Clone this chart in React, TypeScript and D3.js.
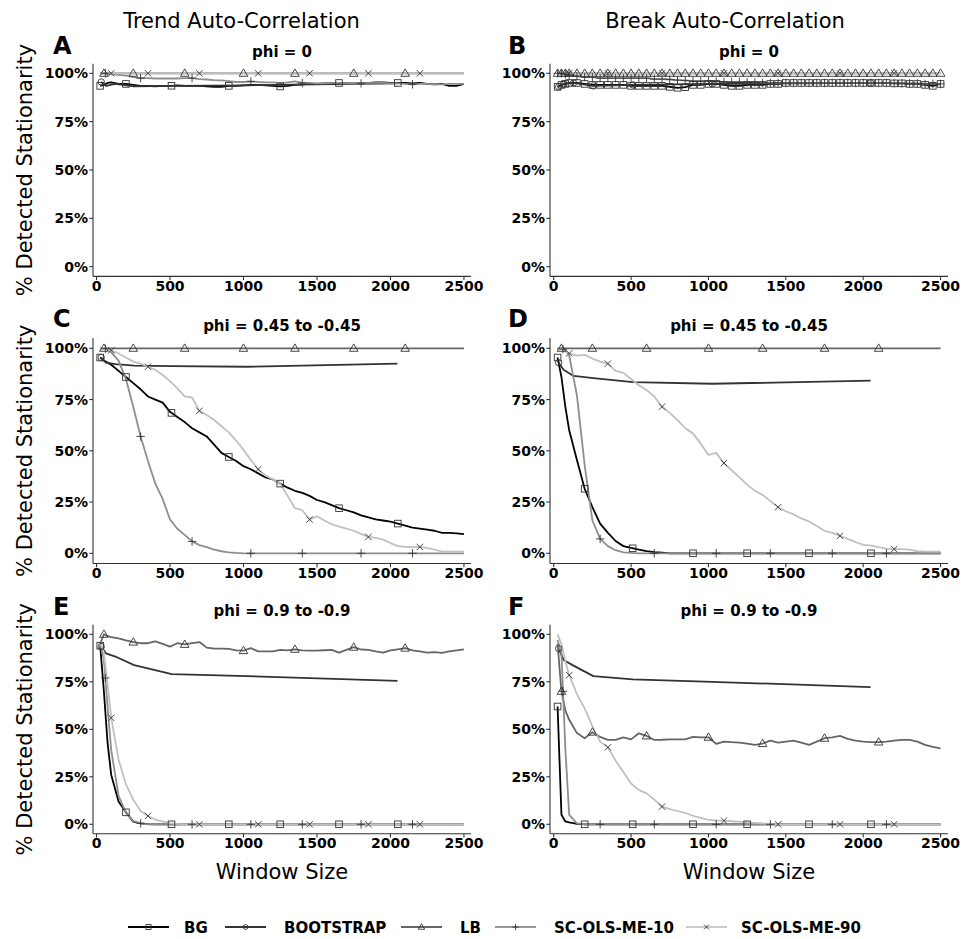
import React from "react";
import * as d3 from "d3";

// ---------------- DATA ----------------
const WINDOW_SIZES = [
  25, 50, 75, 100, 150, 200, 250, 300, 350, 400,
  450, 500, 550, 600, 650, 700, 750, 800, 850, 900,
  950, 1000, 1050, 1100, 1150, 1200, 1250, 1300, 1350, 1400,
  1450, 1500, 1550, 1600, 1650, 1700, 1750, 1800, 1850, 1900,
  1950, 2000, 2050, 2100, 2150, 2200, 2250, 2300, 2350, 2400,
  2450, 2500,
];
const BOOT_WINDOW_SIZES = [32, 64, 128, 256, 512, 1024, 2048];

const SERIES_NAMES = ["BG", "BOOTSTRAP", "LB", "SC-OLS-ME-10", "SC-OLS-ME-90"];
const X_TICKS = [0, 500, 1000, 1500, 2000, 2500];
const Y_TICKS = [0, 25, 50, 75, 100];
const Y_TICK_LABELS = ["0%", "25%", "50%", "75%", "100%"];

const ALL_STATIONARY = [
  100, 100, 100, 100, 100, 100, 100, 100, 100, 100,
  100, 100, 100, 100, 100, 100, 100, 100, 100, 100,
  100, 100, 100, 100, 100, 100, 100, 100, 100, 100,
  100, 100, 100, 100, 100, 100, 100, 100, 100, 100,
  100, 100, 100, 100, 100, 100, 100, 100, 100, 100,
  100, 100,
];

// Panel A: trend, phi = 0
const A_BG = [
  93.5, 94, 95, 95.3, 94.5, 94.5, 94, 93.5, 93.5, 93.3,
  93.5, 93.5, 93.8, 93.5, 93.5, 93.5, 93.3, 93, 93, 93.5,
  93.5, 93.8, 94, 94, 93.8, 93.5, 93.2, 93.5, 94, 94.3,
  94.5, 94.5, 94.8, 94.8, 95, 94.8, 94.8, 94.8, 95, 95.3,
  95.3, 95, 95, 95, 94.8, 95, 94.5, 94.3, 94.5, 93.5,
  93.5, 94.5,
];
const A_BOOT = [95.5, 93.5, 94.5, 93.3, 93.5, 93.8, 94.8];
const A_LB = ALL_STATIONARY;
const A_SC10 = [
  100, 100, 100, 99.5, 99.2, 98.8, 98, 97.5, 97.5, 97.3,
  97.3, 97.3, 97.3, 97.5, 97.5, 97, 96.8, 96.5, 96.3, 96,
  95.5, 95.5, 95.8, 95.5, 95.3, 95.3, 95, 95.3, 95.8, 95,
  95, 94.8, 94.8, 95, 95, 94.8, 94.8, 94.8, 95, 95,
  95, 94.8, 94.8, 94.5, 94.3, 94.5, 94.5, 94.3, 94.3, 94.5,
  94.5, 94.5,
];
const A_SC90 = ALL_STATIONARY;

// Panel B: break, phi = 0
const B_BG = [
  93, 94, 94.5, 95, 95, 94.5, 94, 94, 94, 94,
  94, 93.5, 93.5, 93.5, 93.5, 93.5, 93, 92.5, 92.8, 94,
  94, 94.5, 94.5, 94, 93.5, 93.5, 94, 94, 94, 94.5,
  94.5, 95, 95, 95, 95, 95, 95, 95, 95, 95,
  95, 95, 95, 95, 95, 94.8, 94.8, 94.5, 94.5, 94,
  93.5, 94.5,
];
const B_BOOT = [93, 94.5, 95, 93.5, 94, 94.5, 95];
const B_LB = ALL_STATIONARY;
const B_SC10 = [
  100, 100, 99.5, 99, 98.5, 98, 98, 97.5, 97.5, 97.5,
  97.5, 97.5, 97.5, 97.5, 97, 97, 96.8, 96.5, 96.3, 96,
  96, 96, 95.8, 95.5, 95.5, 95.5, 95.3, 95.3, 95, 95,
  95, 95, 95, 95, 95, 95, 95, 95, 95, 95,
  95, 95, 95, 95, 95, 94.8, 94.8, 94.8, 94.8, 94.5,
  94.5, 94.5,
];
const B_SC90 = ALL_STATIONARY;

// Panel C: trend, phi = 0.45 to -0.45
const C_BG = [
  95.5, 94, 93, 92, 89, 86, 83, 80, 76.5, 75,
  73.5, 69, 66.5, 64, 61, 59, 57, 53, 49, 47,
  45, 42.5, 41, 39, 37, 36, 34, 32, 30.5, 29.5,
  28, 26, 25, 23.5, 22, 21, 20, 18.5, 17.5, 16.5,
  16, 15.5, 14.5, 13.5, 12.5, 12, 11.5, 11, 10, 10,
  9.7, 9.4,
];
const C_BOOT = [95.5, 93, 92.3, 91.5, 91.3, 91, 92.5];
const C_LB = ALL_STATIONARY;
const C_SC10 = [
  100, 100, 99.5, 98, 94, 85, 71.5, 57, 45, 34,
  26.5, 16.5, 12, 9, 5.8, 4, 3, 1.8, 1, 0.5,
  0.2, 0, 0, 0, 0, 0, 0, 0, 0, 0,
  0, 0, 0, 0, 0, 0, 0, 0, 0, 0,
  0, 0, 0, 0, 0, 0, 0, 0, 0, 0,
  0, 0,
];
const C_SC90 = [
  100, 100, 99.5, 99, 97.5, 95.5, 93.5, 92.5, 91, 89.5,
  87, 84, 80.5, 76.5, 76, 69.5, 67.5, 65, 62, 59,
  55, 50.5, 45.5, 41, 38, 36, 34, 28, 22, 21,
  16.5, 18, 16, 14.2, 13, 12, 11, 9.5, 8, 7.5,
  6.7, 5, 3.5, 3.2, 3, 3.1, 2.5, 1.8, 0.8, 0.8,
  0.8, 0.8,
];

// Panel D: break, phi = 0.45 to -0.45
const D_BG = [
  95.5, 86, 71.5, 60, 45.5, 31.5, 22.5, 14.5, 10, 6,
  3.5, 2.6, 1.8, 1.1, 0.6, 0.3, 0, 0, 0, 0,
  0, 0, 0, 0, 0, 0, 0, 0, 0, 0,
  0, 0, 0, 0, 0, 0, 0, 0, 0, 0,
  0, 0, 0, 0, 0, 0, 0, 0, 0, 0,
  0, 0,
];
const D_BOOT = [93, 89.5, 86.5, 85.5, 83.5, 82.7, 84.2];
const D_LB = ALL_STATIONARY;
const D_SC10 = [
  100, 100, 99, 96.5, 77, 43, 16, 7, 3.5, 1.5,
  0.5, 0.2, 0, 0, 0, 0, 0, 0, 0, 0,
  0, 0, 0, 0, 0, 0, 0, 0, 0, 0,
  0, 0, 0, 0, 0, 0, 0, 0, 0, 0,
  0, 0, 0, 0, 0, 0, 0, 0, 0, 0,
  0, 0,
];
const D_SC90 = [
  100, 99.5, 98.5, 97.5, 96.4, 96.8, 95, 93.5, 92.5, 89,
  88, 85, 82, 79.7, 76.5, 71.5, 68.5, 65, 61, 58.5,
  53.5, 48, 49, 44, 40.5, 37, 33.5, 30.5, 28.5, 25.5,
  22.5, 20.5, 19, 17, 15.5, 13.3, 11, 10, 8.5, 7,
  5.5, 4.1, 3.7, 3, 2.3, 2, 2, 1.8, 1, 0.8,
  0.8, 0.8,
];

// Panel E: trend, phi = 0.9 to -0.9
const E_BG = [
  94, 70, 43, 26, 12, 6.3, 1.4, 0.5, 0.1, 0,
  0, 0, 0, 0, 0, 0, 0, 0, 0, 0,
  0, 0, 0, 0, 0, 0, 0, 0, 0, 0,
  0, 0, 0, 0, 0, 0, 0, 0, 0, 0,
  0, 0, 0, 0, 0, 0, 0, 0, 0, 0,
  0, 0,
];
const E_BOOT = [93.5, 90, 88.3, 83.8, 79, 78, 75.5];
const E_LB = [
  95, 100, 99, 98.5, 97.8, 96.8, 95.9, 95.3, 95.3, 96.3,
  95, 93.5, 95.3, 94.7, 95.3, 95.9, 93, 92.5, 92.5, 92.3,
  91.5, 91.4, 92.7, 91, 91, 91, 91.8, 91.5, 92.1, 91.5,
  91.4, 91.4, 91.6, 91.8, 90.4, 91.8, 93.2, 92, 91.8, 91,
  90.4, 91.5, 92.1, 92.7, 91.5, 91, 90.4, 90.6, 90.2, 91,
  91.5, 92.1,
];
const E_SC10 = [
  95, 87, 62, 39, 15, 6, 1.8, 0.5, 0, 0,
  0, 0, 0, 0, 0, 0, 0, 0, 0, 0,
  0, 0, 0, 0, 0, 0, 0, 0, 0, 0,
  0, 0, 0, 0, 0, 0, 0, 0, 0, 0,
  0, 0, 0, 0, 0, 0, 0, 0, 0, 0,
  0, 0,
];
const E_SC90 = [
  96, 90, 74, 56, 34, 21, 13, 7, 4.4, 2.5,
  1.5, 0.6, 0.2, 0, 0, 0, 0, 0, 0, 0,
  0, 0, 0, 0, 0, 0, 0, 0, 0, 0,
  0, 0, 0, 0, 0, 0, 0, 0, 0, 0,
  0, 0, 0, 0, 0, 0, 0, 0, 0, 0,
  0, 0,
];

// Panel F: break, phi = 0.9 to -0.9
const F_BG = [
  62, 5, 1.5, 1, 0.2, 0, 0, 0, 0, 0,
  0, 0, 0, 0, 0, 0, 0, 0, 0, 0,
  0, 0, 0, 0, 0, 0, 0, 0, 0, 0,
  0, 0, 0, 0, 0, 0, 0, 0, 0, 0,
  0, 0, 0, 0, 0, 0, 0, 0, 0, 0,
  0, 0,
];
const F_BOOT = [92.5, 86.5, 83.5, 78, 76.3, 75, 72.2];
const F_LB = [
  95, 70, 60, 55, 48, 45.3, 48.5, 46, 44.4, 44.4,
  45.8, 44.7, 47.9, 46.5, 44.4, 44.5, 44.7, 44.7, 44.7, 46,
  45.8, 45.8, 42.3, 43.5, 43.2, 43, 42.5, 41.8, 42.5, 44,
  43, 43.5, 44, 43, 41.8, 43.5, 45.3, 45.8, 46.5, 45,
  44, 43.5, 43.2, 43.3, 43.5, 44, 44.4, 44.4, 43.5, 41.8,
  40.8, 40,
];
const F_SC10 = [
  97, 90, 40, 5, 0.5, 0, 0, 0, 0, 0,
  0, 0, 0, 0, 0, 0, 0, 0, 0, 0,
  0, 0, 0, 0, 0, 0, 0, 0, 0, 0,
  0, 0, 0, 0, 0, 0, 0, 0, 0, 0,
  0, 0, 0, 0, 0, 0, 0, 0, 0, 0,
  0, 0,
];
const F_SC90 = [
  100, 95, 86, 78.5, 68.5, 61, 51.5, 43.5, 40.5, 33.5,
  27.5, 21.5, 18, 16.3, 13, 9.3, 8, 7, 6, 4.5,
  3.4, 2.3, 2, 1.9, 1.6, 1.4, 1, 0.8, 0.5, 0.2,
  0, 0, 0, 0, 0, 0, 0, 0, 0, 0,
  0, 0, 0, 0, 0, 0, 0, 0, 0, 0,
  0, 0,
];

// window sizes where point symbols are drawn
const BG_MARKS = [25, 200, 510, 900, 1250, 1650, 2050];
const BOOT_MARKS = [32];
const LB_MARKS = [50, 250, 600, 1000, 1350, 1750, 2100];
const SC10_MARKS = [60, 300, 650, 1050, 1400, 1800, 2150];
const SC90_MARKS = [100, 350, 700, 1100, 1450, 1850, 2200];

// ---------------- STYLE / LAYOUT ----------------
const FONT = "DejaVu Sans";
const LINE_COLORS = ["#000000", "#333333", "#666666", "#8e8e8e", "#c0c0c0"];
const LEGEND_COLORS = ["#000000", "#333333", "#666666", "#999999", "#cccccc"];
const SHAPES = ["square", "circle", "triangle", "plus", "cross"];
const MARK_COLOR = "#333333";

const COLS = [
  { left: 93, right: 471, titleX: 241.5, center: 282 },
  { left: 550, right: 948, titleX: 725, center: 749 },
];
const ROWS = [
  { y100: 73.3, y0: 266.7, letterY: 54, subY: 57 },
  { y100: 348.3, y0: 553.3, letterY: 327, subY: 331 },
  { y100: 634.3, y0: 824.3, letterY: 615, subY: 616 },
];
const X_DOMAIN = [-24, 2548];

type PanelCfg = {
  letter: string;
  sub: string;
  col: number;
  row: number;
  main: number[][]; // BG, LB, SC10, SC90 on WINDOW_SIZES
  boot: number[];
  dense: boolean;
};

const PANELS: PanelCfg[] = [
  { letter: "A", sub: "phi = 0", col: 0, row: 0, main: [A_BG, A_LB, A_SC10, A_SC90], boot: A_BOOT, dense: false },
  { letter: "B", sub: "phi = 0", col: 1, row: 0, main: [B_BG, B_LB, B_SC10, B_SC90], boot: B_BOOT, dense: true },
  { letter: "C", sub: "phi = 0.45 to -0.45", col: 0, row: 1, main: [C_BG, C_LB, C_SC10, C_SC90], boot: C_BOOT, dense: false },
  { letter: "D", sub: "phi = 0.45 to -0.45", col: 1, row: 1, main: [D_BG, D_LB, D_SC10, D_SC90], boot: D_BOOT, dense: false },
  { letter: "E", sub: "phi = 0.9 to -0.9", col: 0, row: 2, main: [E_BG, E_LB, E_SC10, E_SC90], boot: E_BOOT, dense: false },
  { letter: "F", sub: "phi = 0.9 to -0.9", col: 1, row: 2, main: [F_BG, F_LB, F_SC10, F_SC90], boot: F_BOOT, dense: false },
];

function interp(xs: number[], ys: number[], x: number): number {
  if (x <= xs[0]) return ys[0];
  for (let i = 0; i < xs.length - 1; i++) {
    if (x >= xs[i] && x <= xs[i + 1]) {
      const t = (x - xs[i]) / (xs[i + 1] - xs[i]);
      return ys[i] + t * (ys[i + 1] - ys[i]);
    }
  }
  return ys[ys.length - 1];
}

function Marker({ shape, cx, cy, s = 1, color = MARK_COLOR }: { shape: string; cx: number; cy: number; s?: number; color?: string }) {
  const common = { fill: "none", stroke: color, strokeWidth: 0.9 };
  if (shape === "square") {
    const h = 3.3 * s;
    return <rect x={cx - h} y={cy - h} width={2 * h} height={2 * h} {...common} />;
  }
  if (shape === "circle") return <circle cx={cx} cy={cy} r={3.2 * s} {...common} />;
  if (shape === "triangle") {
    const w = 4.3 * s, t = 4.4 * s, b = 3 * s;
    return <path d={`M${cx},${cy - t}L${cx + w},${cy + b}L${cx - w},${cy + b}Z`} {...common} />;
  }
  if (shape === "plus") {
    const a = 4.2 * s;
    return <path d={`M${cx - a},${cy}H${cx + a}M${cx},${cy - a}V${cy + a}`} {...common} />;
  }
  const a = 3.2 * s;
  return <path d={`M${cx - a},${cy - a}L${cx + a},${cy + a}M${cx - a},${cy + a}L${cx + a},${cy - a}`} {...common} />;
}

function Panel({ cfg }: { cfg: PanelCfg }) {
  const col = COLS[cfg.col];
  const row = ROWS[cfg.row];
  const x = d3.scaleLinear().domain(X_DOMAIN).range([col.left, col.right]);
  const y = d3.scaleLinear().domain([0, 100]).range([row.y0, row.y100]);
  const top = y(105);
  const bottom = y(-5);
  const line = d3
    .line<[number, number]>()
    .defined((d) => d[1] != null && !isNaN(d[1]))
    .x((d) => x(d[0]))
    .y((d) => y(d[1]));

  const series = [
    { xs: WINDOW_SIZES, ys: cfg.main[0], marks: cfg.dense ? WINDOW_SIZES : BG_MARKS },
    { xs: BOOT_WINDOW_SIZES, ys: cfg.boot, marks: cfg.dense ? BOOT_WINDOW_SIZES : BOOT_MARKS },
    { xs: WINDOW_SIZES, ys: cfg.main[1], marks: cfg.dense ? WINDOW_SIZES : LB_MARKS },
    { xs: WINDOW_SIZES, ys: cfg.main[2], marks: cfg.dense ? WINDOW_SIZES : SC10_MARKS },
    { xs: WINDOW_SIZES, ys: cfg.main[3], marks: SC90_MARKS },
  ];

  return (
    <g>
      {series.map((s, i) => (
        <path
          key={"l" + i}
          d={line(s.xs.map((xv, j) => [xv, s.ys[j]] as [number, number])) || ""}
          fill="none"
          stroke={LINE_COLORS[i]}
          strokeWidth={1.8}
          strokeLinejoin="round"
        />
      ))}
      {series.map((s, i) =>
        s.marks.map((mx, j) => (
          <Marker key={"m" + i + "-" + j} shape={SHAPES[i]} cx={x(mx)} cy={y(interp(s.xs, s.ys, mx))} />
        ))
      )}
      <line x1={col.left} x2={col.left} y1={top} y2={bottom} stroke="#333" strokeWidth={1.1} />
      <line x1={col.left} x2={col.right} y1={bottom} y2={bottom} stroke="#333" strokeWidth={1.1} />
      {Y_TICKS.map((t, i) => (
        <g key={"yt" + t}>
          <line x1={col.left - 3.7} x2={col.left} y1={y(t)} y2={y(t)} stroke="#333" strokeWidth={1.1} />
          <text x={col.left - 5} y={y(t) + 5} textAnchor="end" fontSize={14} fontWeight="bold" fill="#000">
            {Y_TICK_LABELS[i]}
          </text>
        </g>
      ))}
      {X_TICKS.map((t) => (
        <g key={"xt" + t}>
          <line x1={x(t)} x2={x(t)} y1={bottom} y2={bottom + 3.7} stroke="#333" strokeWidth={1.1} />
          <text x={x(t)} y={bottom + 14.5} textAnchor="middle" fontSize={14} fontWeight="bold" fill="#000">
            {t}
          </text>
        </g>
      ))}
      <text x={cfg.col === 0 ? 53 : 508} y={row.letterY} fontSize={24} fontWeight="bold" fill="#000">
        {cfg.letter}
      </text>
      <text x={col.center} y={row.subY} textAnchor="middle" fontSize={15} fontWeight="bold" fill="#000">
        {cfg.sub}
      </text>
      {cfg.col === 0 && (
        <text
          transform={`translate(32,${(top + bottom) / 2}) rotate(-90)`}
          textAnchor="middle"
          fontSize={21}
          fill="#000"
        >
          % Detected Stationarity
        </text>
      )}
    </g>
  );
}

const LEGEND_KEY_X = [128, 225, 401, 495, 686];
const LEGEND_TEXT_X = [184, 284, 460, 554, 741];

export default function App() {
  const legendY = 927;
  return (
    <svg
      width={963}
      height={939}
      style={{ position: "absolute", left: 0, top: 0, display: "block" }}
      fontFamily={FONT}
    >
      <rect x={0} y={0} width={963} height={939} fill="#fff" />
      <text x={COLS[0].titleX} y={28} textAnchor="middle" fontSize={21} fill="#000">
        Trend Auto-Correlation
      </text>
      <text x={COLS[1].titleX} y={28} textAnchor="middle" fontSize={21} fill="#000">
        Break Auto-Correlation
      </text>
      {PANELS.map((p) => (
        <Panel key={p.letter} cfg={p} />
      ))}
      <text x={COLS[0].center} y={879} textAnchor="middle" fontSize={21} fill="#000">
        Window Size
      </text>
      <text x={COLS[1].center} y={879} textAnchor="middle" fontSize={21} fill="#000">
        Window Size
      </text>
      {SERIES_NAMES.map((name, i) => (
        <g key={name}>
          <line
            x1={LEGEND_KEY_X[i]}
            x2={LEGEND_KEY_X[i] + 41}
            y1={legendY}
            y2={legendY}
            stroke={LEGEND_COLORS[i]}
            strokeWidth={1.8}
          />
          <Marker shape={SHAPES[i]} cx={LEGEND_KEY_X[i] + 20.5} cy={legendY} s={0.75} />
          <text x={LEGEND_TEXT_X[i]} y={legendY + 5.5} fontSize={15} fontWeight="bold" fill="#000">
            {name}
          </text>
        </g>
      ))}
    </svg>
  );
}
